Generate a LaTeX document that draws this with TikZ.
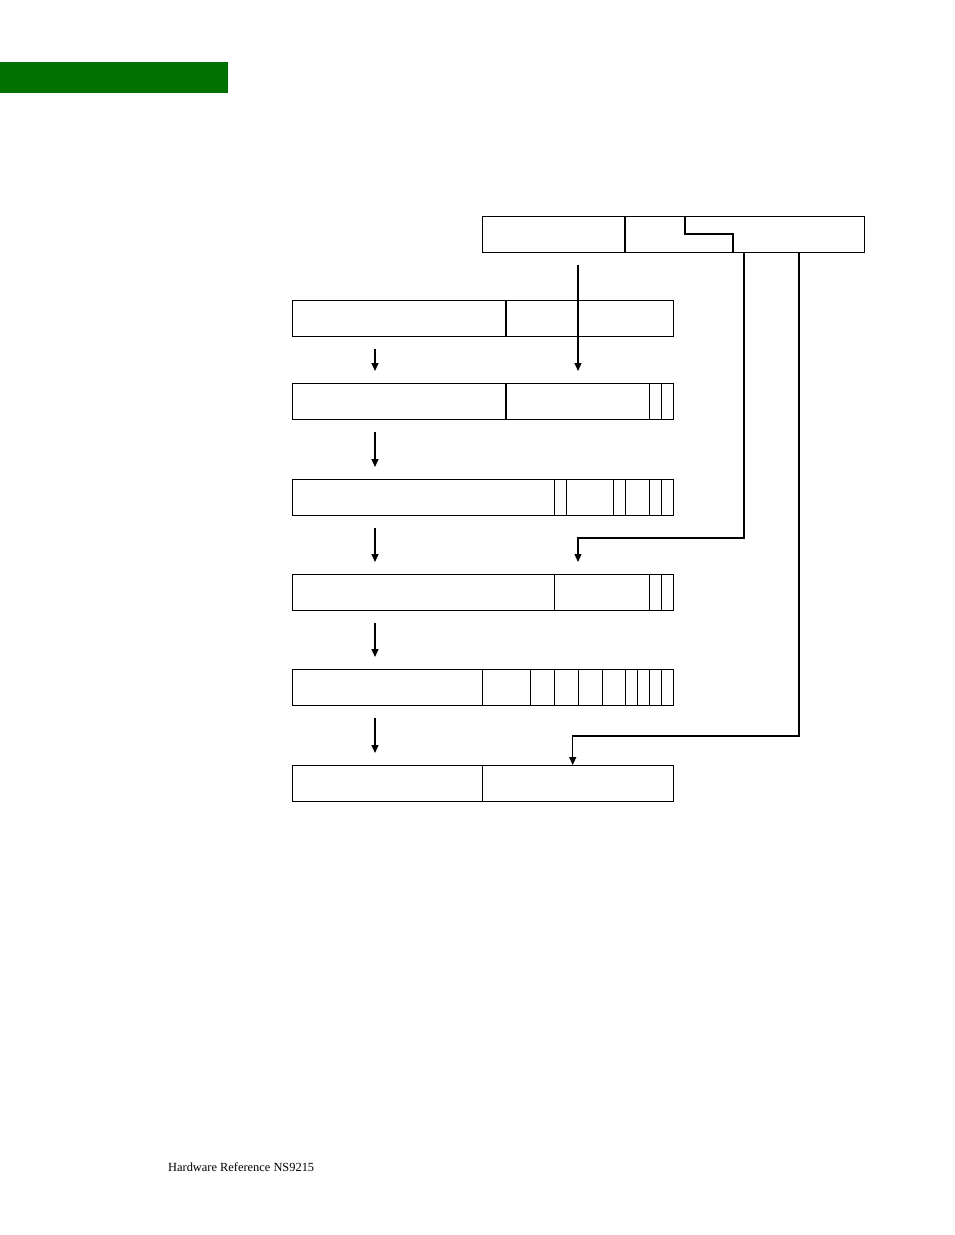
\documentclass[tikz,border=0pt]{standalone}
\usepackage{fontspec}
\setmainfont{Liberation Serif}
\usepackage{xcolor}
\usetikzlibrary{arrows.meta}
\definecolor{vgreen}{HTML}{007000}
\definecolor{vblack}{HTML}{000000}

\begin{document}
\begin{tikzpicture}[x=1pt, y=-1pt,
	reg/.style = {draw = vblack, line width = 1.1pt, inner sep = 0pt, minimum height = 35.5pt, anchor = north west},
	bit/.style = {draw = vblack, line width = 1.1pt},
	arr/.style = {draw = vblack, line width = 1.1pt, -{Triangle[width = 7pt, length = 8pt]}}]
	\useasboundingbox (0,0) rectangle (954,1235);
	% header bar
	\fill[vgreen] (0,62) rectangle (228,93);
	% registers
	\node[reg, minimum width = 382pt] (vaddr) at (482,216) {};
	\node[reg, minimum width = 381pt] (ttb) at (292,300) {};
	\node[reg, minimum width = 381pt] (lonea) at (292,383) {};
	\node[reg, minimum width = 381pt] (lonedesc) at (292,479) {};
	\node[reg, minimum width = 381pt] (ltwoa) at (292,574) {};
	\node[reg, minimum width = 381pt] (ltwodesc) at (292,669) {};
	\node[reg, minimum width = 381pt] (paddr) at (292,765) {};
	% fields
	\draw[bit] (625,216) -- ++(0,36);
	\draw[bit] (685,216) |- (733,234) -- (733,252);
	\draw[bit] (506,300) -- ++(0,35.5);
	\foreach \x in {506,649.7,661.3} \draw[bit] (\x,383) -- ++(0,35.5);
	\foreach \x in {554.3,566.3,613.3,625.3,649.7,661.3} \draw[bit] (\x,479) -- ++(0,35.5);
	\foreach \x in {554.3,649.7,661.3} \draw[bit] (\x,574) -- ++(0,35.5);
	\foreach \x in {482.3,530.3,554.3,578.3,602.3,625.3,637.3,649.7,661.3} \draw[bit] (\x,669) -- ++(0,35.5);
	\draw[bit] (482.3,765) -- ++(0,35.5);
	% lanes
	\coordinate (left lane) at (375,0);
	\coordinate (mid lane) at (578,0);
	\coordinate (low lane) at (572.7,0);
	\coordinate (tap one) at (744,0);
	\coordinate (tap two) at (799,0);
	% arrows
	\foreach \a/\b in {ttb/lonea, lonea/lonedesc, lonedesc/ltwoa, ltwoa/ltwodesc, ltwodesc/paddr}
		\draw[arr, shorten < = 12pt, shorten > = 12pt] (\a.south -| left lane) -- (\b.north -| left lane);
	\draw[arr, shorten < = 12pt, shorten > = 12pt] (vaddr.south -| mid lane) -- (lonea.north -| mid lane);
	\draw[arr, shorten > = 12pt] (vaddr.south -| tap one) |- (578,538) -- (ltwoa.north -| mid lane);
	\draw[arr] (vaddr.south -| tap two) |- (572.7,736) -- (paddr.north -| low lane);
	% footer
	\node[anchor = base west, inner sep = 0pt, font = \fontsize{12.4}{15}\selectfont] (foot) at (168,1171) {Hardware Reference NS9215};
\end{tikzpicture}
\end{document}
